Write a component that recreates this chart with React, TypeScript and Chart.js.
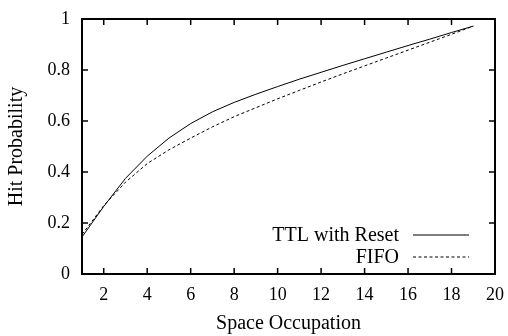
import React, { useEffect, useRef } from "react";
import { Chart, registerables } from "chart.js";

Chart.register(...registerables);

const xValues = [1, 2, 3, 4, 5, 6, 7, 8, 9, 10, 11, 12, 13, 14, 15, 16, 17, 18, 19];
const ttlReset = [0.145, 0.265, 0.375, 0.462, 0.533, 0.59, 0.636, 0.673, 0.705, 0.735, 0.764, 0.791, 0.818, 0.844, 0.87, 0.896, 0.921, 0.947, 0.972];
const fifo = [0.155, 0.268, 0.36, 0.433, 0.487, 0.533, 0.577, 0.617, 0.652, 0.687, 0.72, 0.753, 0.785, 0.816, 0.847, 0.878, 0.909, 0.94, 0.972];
const xTicks = [2, 4, 6, 8, 10, 12, 14, 16, 18, 20];
const yTicks = [0, 0.2, 0.4, 0.6, 0.8, 1];
const seriesLabels = ["TTL with Reset", "FIFO"];

const FONT = "'Liberation Serif', 'Times New Roman', serif";

const framePlugin = {
  id: "frameTicks",
  afterDraw(chart: any) {
    const { ctx, chartArea, scales } = chart;
    const { left, right, top, bottom } = chartArea;
    ctx.save();
    ctx.strokeStyle = "#000";
    ctx.lineWidth = 2;
    ctx.strokeRect(left, top, right - left, bottom - top);
    const len = 6;
    ctx.lineWidth = 1.5;
    ctx.beginPath();
    scales.x.ticks.forEach((t: any) => {
      const px = scales.x.getPixelForValue(t.value);
      ctx.moveTo(px, bottom);
      ctx.lineTo(px, bottom - len);
      ctx.moveTo(px, top);
      ctx.lineTo(px, top + len);
    });
    scales.y.ticks.forEach((t: any) => {
      const py = scales.y.getPixelForValue(t.value);
      ctx.moveTo(left, py);
      ctx.lineTo(left + len, py);
      ctx.moveTo(right, py);
      ctx.lineTo(right - len, py);
    });
    ctx.stroke();

    const datasets = chart.data.datasets;
    const lineEnd = right - 26;
    const lineStart = lineEnd - 56;
    const textRight = lineStart - 14;
    const baseY = bottom - 39;
    ctx.font = `20px ${FONT}`;
    ctx.textAlign = "right";
    ctx.textBaseline = "middle";
    ctx.fillStyle = "#000";
    datasets.forEach((ds: any, i: number) => {
      const y = baseY + i * 22;
      ctx.fillText(ds.label, textRight, y + 1);
      ctx.beginPath();
      ctx.lineWidth = 1;
      ctx.setLineDash(ds.borderDash || []);
      ctx.moveTo(lineStart, y);
      ctx.lineTo(lineEnd, y);
      ctx.stroke();
      ctx.setLineDash([]);
    });
    ctx.restore();
  },
};

export default function App() {
  const ref = useRef<HTMLCanvasElement | null>(null);
  useEffect(() => {
    if (!ref.current) return;
    const chart = new Chart(ref.current, {
      type: "line",
      data: {
        datasets: [
          {
            label: seriesLabels[0],
            data: xValues.map((x, i) => ({ x, y: ttlReset[i] })),
            borderColor: "#000",
            borderWidth: 1,
            pointRadius: 0,
            tension: 0,
            fill: false,
          },
          {
            label: seriesLabels[1],
            data: xValues.map((x, i) => ({ x, y: fifo[i] })),
            borderColor: "#000",
            borderWidth: 1,
            borderDash: [3, 2.5],
            pointRadius: 0,
            tension: 0,
            fill: false,
          },
        ],
      },
      options: {
        animation: false,
        responsive: true,
        maintainAspectRatio: false,
        layout: { padding: { top: 19, right: 13, left: 0, bottom: 0 } },
        plugins: { legend: { display: false }, tooltip: { enabled: false } },
        scales: {
          x: {
            type: "linear",
            min: 1,
            max: 20,
            afterBuildTicks: (axis: any) => {
              axis.ticks = xTicks.map((v) => ({ value: v }));
            },
            afterFit: (axis: any) => {
              axis.height = 62;
              axis.paddingLeft = 0;
              axis.paddingRight = 0;
            },
            grid: { display: false, drawTicks: false },
            border: { display: false },
            ticks: {
              color: "#000",
              padding: 10,
              maxRotation: 0,
              autoSkip: false,
              font: { family: FONT, size: 18 },
              callback: (v: any) => String(v),
            },
            title: {
              display: true,
              text: "Space Occupation",
              color: "#000",
              font: { family: FONT, size: 20 },
              padding: { top: 0, bottom: 0 },
            },
          },
          y: {
            type: "linear",
            min: 0,
            max: 1,
            afterBuildTicks: (axis: any) => {
              axis.ticks = yTicks.map((v) => ({ value: v }));
            },
            afterFit: (axis: any) => {
              axis.width = 82;
              axis.paddingTop = 0;
              axis.paddingBottom = 0;
            },
            grid: { display: false, drawTicks: false },
            border: { display: false },
            ticks: {
              color: "#000",
              padding: 12,
              autoSkip: false,
              font: { family: FONT, size: 18 },
              callback: (v: any) => String(Math.round(v * 10) / 10),
            },
            title: {
              display: true,
              text: "Hit Probability",
              color: "#000",
              font: { family: FONT, size: 20 },
              padding: { top: 5, bottom: 0 },
            },
          },
        },
      },
      plugins: [framePlugin],
    });
    return () => chart.destroy();
  }, []);
  return (
    <div style={{ position: "absolute", left: 0, top: 0, width: 508, height: 336, background: "#fff" }}>
      <canvas ref={ref} />
    </div>
  );
}
